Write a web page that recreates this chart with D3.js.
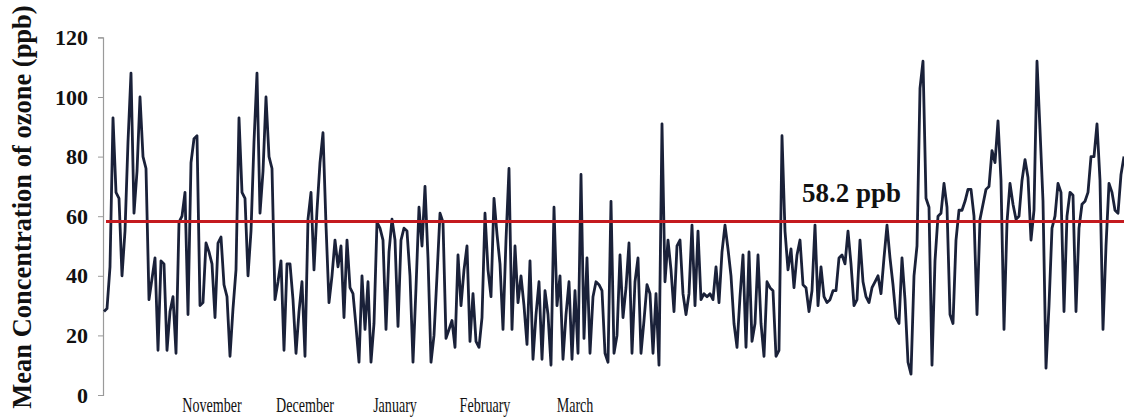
<!DOCTYPE html>
<html>
<head>
<meta charset="utf-8">
<script src="https://cdn.jsdelivr.net/npm/d3@7"></script>
<style>
  html, body { margin: 0; padding: 0; background: #ffffff; }
  svg { display: block; }
</style>
</head>
<body>
<svg id="chart" width="1124" height="417"></svg>
<script>
// ---- data ----
const ozone = [
  28, 29, 43, 93, 68, 66, 40, 55, 85, 108,
  61, 75, 100, 80, 76, 32, 39, 46, 15, 45,
  44, 15, 28, 33, 14, 58, 60, 68, 27, 78,
  86, 87, 30, 31, 51, 48, 44, 26, 51, 53,
  37, 33, 13, 29, 42, 93, 68, 66, 40, 55,
  85, 108, 61, 75, 100, 80, 76, 32, 38, 45,
  15, 44, 44, 32, 14, 28, 38, 13, 59, 68,
  42, 62, 78, 88, 57, 31, 40, 52, 43, 50,
  26, 52, 36, 34, 23, 11, 40, 22, 38, 11,
  24, 58, 56, 52, 22, 48, 59, 52, 23, 52,
  56, 55, 40, 11, 36, 63, 50, 70, 46, 11,
  20, 40, 61, 58, 19, 22, 25, 16, 47, 30,
  42, 50, 18, 34, 18, 16, 26, 61, 42, 33,
  66, 54, 44, 22, 52, 76, 22, 50, 31, 40,
  30, 17, 45, 12, 27, 38, 12, 35, 27, 10,
  63, 30, 40, 12, 27, 38, 12, 35, 14, 74,
  19, 46, 14, 33, 38, 37, 35, 14, 11, 65,
  14, 20, 47, 26, 36, 51, 14, 38, 46, 14,
  25, 37, 34, 14, 34, 10, 91, 38, 52, 42,
  28, 50, 52, 34, 27, 34, 57, 30, 55, 32,
  34, 33, 34, 32, 43, 31, 48, 57, 49, 40,
  24, 16, 33, 47, 16, 48, 18, 24, 47, 24,
  13, 38, 36, 35, 13, 15, 87, 55, 42, 49,
  36, 47, 52, 37, 36, 28, 35, 57, 30, 43,
  33, 31, 32, 35, 35, 46, 47, 44, 55, 44,
  30, 32, 52, 38, 33, 31, 36, 38, 40, 34,
  46, 57, 46, 37, 26, 24, 46, 32, 11, 7,
  40, 50, 103, 112, 66, 63, 10, 45, 60, 61,
  71, 63, 27, 24, 52, 62, 62, 65, 69, 69,
  60, 27, 59, 64, 69, 70, 82, 78, 92, 72,
  22, 58, 71, 64, 59, 60, 72, 79, 73, 52,
  62, 112, 89, 65, 9, 30, 56, 60, 71, 68,
  28, 60, 68, 67, 28, 56, 64, 65, 68, 80,
  80, 91, 72, 22, 50, 71, 68, 62, 61, 74, 80
];
const meanValue = 58.2;
const meanLabel = "58.2 ppb";
const months = ["November", "December", "January", "February", "March"];
const monthPos = [36, 67, 97, 127, 157];   // observation index where each month label sits
const yTicks = [0, 20, 40, 60, 80, 100, 120];
const yTitle = "Mean Concentration of ozone (ppb)";

// ---- layout ----
const svg = d3.select("#chart");
const W = 1124, H = 417;
svg.append("rect").attr("width", W).attr("height", H).attr("fill", "#ffffff");

const x = d3.scaleLinear().domain([0, ozone.length - 1]).range([104, 1124]);
const y = d3.scaleLinear().domain([0, 120]).range([395, 37.4]);

// y axis
const yAxis = d3.axisLeft(y).tickValues(yTicks).tickSize(5).tickPadding(10);
const gy = svg.append("g").attr("transform", "translate(103,0)").call(yAxis);
gy.select(".domain").attr("stroke", "#9a9a9a").attr("stroke-width", 1.2);
gy.selectAll(".tick line").attr("stroke", "#9a9a9a");
gy.selectAll(".tick text")
  .attr("font-family", "'Liberation Serif', 'Times New Roman', serif")
  .attr("font-weight", "bold")
  .attr("font-size", 22)
  .attr("fill", "#111");

// y title
svg.append("text")
  .attr("transform", "translate(22,207) rotate(-90)")
  .attr("dy", "0.35em")
  .attr("text-anchor", "middle")
  .attr("font-family", "'Liberation Serif', 'Times New Roman', serif")
  .attr("font-weight", "bold")
  .attr("font-size", 26.5)
  .attr("fill", "#111")
  .text(yTitle);

// month labels
svg.append("g").selectAll("text").data(months).join("text")
  .attr("transform", (d, i) => `translate(${x(monthPos[i])},412) scale(0.64,1)`)
  .attr("text-anchor", "middle")
  .attr("font-family", "'Liberation Serif', 'Times New Roman', serif")
  .attr("font-size", 22)
  .attr("fill", "#111")
  .text(d => d);

// ozone line
const line = d3.line().x((d, i) => x(i)).y(d => y(d));
svg.append("path")
  .datum(ozone)
  .attr("d", line)
  .attr("fill", "none")
  .attr("stroke", "#1a2139")
  .attr("stroke-width", 2.8)
  .attr("stroke-linejoin", "round");

// mean line
svg.append("line")
  .attr("x1", x(0) + 2).attr("x2", W)
  .attr("y1", y(meanValue)).attr("y2", y(meanValue))
  .attr("stroke", "#c41a1f")
  .attr("stroke-width", 3);

svg.append("text")
  .attr("x", 802)
  .attr("y", y(meanValue) - 20)
  .attr("font-family", "'Liberation Serif', 'Times New Roman', serif")
  .attr("font-weight", "bold")
  .attr("font-size", 27)
  .attr("fill", "#111")
  .text(meanLabel);
</script>
</body>
</html>
